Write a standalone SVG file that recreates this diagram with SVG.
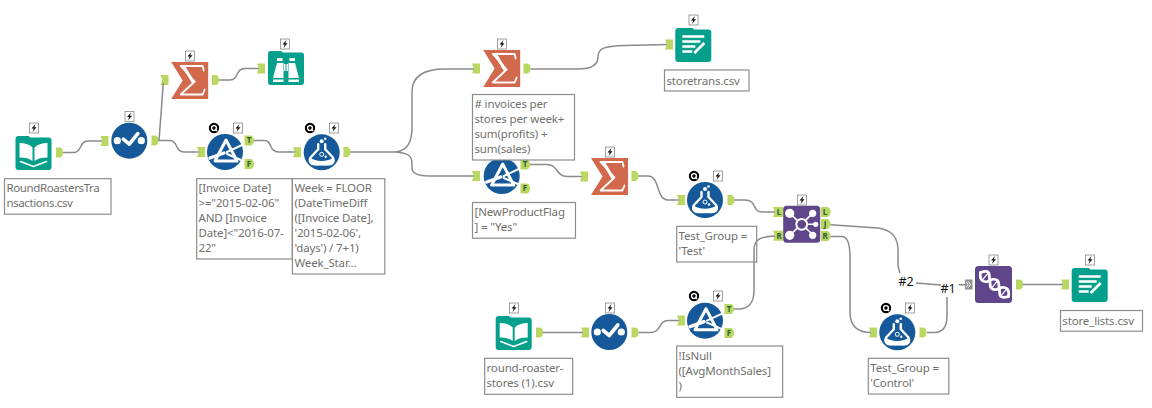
<svg xmlns="http://www.w3.org/2000/svg" xmlns:xlink="http://www.w3.org/1999/xlink" width="1152" height="408" viewBox="0 0 1152 408">
<style>
.wire{fill:none;stroke:#8a8a8a;stroke-width:1.5}
.box{fill:#fff;stroke:#8c8c8c;stroke-width:1.2}
.t{font-family:"Noto Sans","Open Sans",sans-serif;font-size:11.5px;letter-spacing:-.15px;fill:#70706e;-webkit-text-stroke:.15px #70706e}
.p{font-family:"Noto Sans",sans-serif;font-size:8px;font-weight:700;fill:#2f5b3a;text-anchor:middle}
.h{font-family:"Noto Sans",sans-serif;font-size:12.5px;fill:#111;text-anchor:middle}
.w{fill:none;stroke:#fff;stroke-linecap:round;stroke-linejoin:round}
.wf{fill:#fff}
</style>
<defs>
<path id="ai" d="M0,-5H8V5H0L1.8,0Z" fill="#b9d762"/>
<path id="ail" d="M0,-5H10V5H0L1.8,0Z" fill="#b9d762"/>
<path id="ao" d="M0,-5H3.5C6,-5 7,-2.5 7,0C7,2.5 6,5 3.5,5H0Z" fill="#b9d762"/>
<path id="aol" d="M0,-5H6C8,-5 9.5,-2.5 9.5,0C9.5,2.5 8,5 6,5H0Z" fill="#b9d762"/>
<g id="bolt"><rect x="-4.5" y="-5" width="9" height="10" fill="#fff" stroke="#888" stroke-width=".8"/><path d="M1.5,-4L-2.5,.5H-.3L-1.5,4L2.5,-.8H.3Z" fill="#111"/></g>
<g id="q"><circle r="5.2" fill="#000"/><circle r="2.4" fill="none" stroke="#fff" stroke-width="1.4"/><path d="M1,1L3.2,3.2" stroke="#fff" stroke-width="1.2"/></g>
<g id="book"><path d="M-18,-14C-18,-16 -17,-17 -15,-17H-5L-3,-15.5H15C17,-15.5 18,-14.5 18,-13V14C18,16 17,17 15,17H-15C-17,17 -18,16 -18,14Z" fill="#04a08c"/><path class="wf" d="M-14,-10C-8,-10 -4,-8.5 -1,-5.5V8C-4,5.5 -8,4.5 -14,4.5Z"/><path class="wf" d="M14,-10C8,-10 4,-8.5 1,-5.5V8C4,5.5 8,4.5 14,4.5Z"/><path class="w" stroke-width="1.6" d="M-13,8.5L0,13.5L13,8.5"/></g>
<g id="out"><path d="M-18,-14C-18,-16 -17,-17 -15,-17H-1L1,-15.5H15C17,-15.5 18,-14.5 18,-13V14C18,16 17,17 15,17H-15C-17,17 -18,16 -18,14Z" fill="#04a08c"/><path stroke="#fff" stroke-width="2.4" fill="none" d="M-11,-8.5H11M-11,-3.5H7M-11,1.5H2M-11,6.5H-1"/><path stroke="#fff" stroke-width="2.6" fill="none" d="M1,8L11,-2"/></g>
<g id="bino"><path d="M-18,-14C-18,-16 -17,-17 -15,-17H-5L-3,-15.5H15C17,-15.5 18,-14.5 18,-13V14C18,16 17,17 15,17H-15C-17,17 -18,16 -18,14Z" fill="#04a08c"/><path class="wf" d="M-9,-10H-3.5V-7H-9ZM3.5,-10H9V-7H3.5ZM-9,-5H-2.5V10H-13ZM2.5,-5H9L13,10H2.5ZM-13,11.5H-2.5V14H-13ZM2.5,11.5H13V14H2.5ZM-2,-4H-.5V3H-2ZM.5,-4H2V3H.5Z"/></g>
<g id="check"><circle r="18" fill="#15599a"/><circle cx="-12" r="3.6" class="wf"/><circle cx="12" r="3.6" class="wf"/><path class="w" stroke-width="3.6" d="M-6,-1.5L0,3.5L8.5,-7"/></g>
<g id="sum"><path d="M-18.5,-18.5H18.5V18.5H-18.5L-7,0Z" fill="#d2694d"/><path d="M-9,-14.5H13L14,-10M-9,-14.5L5,1L-9,14H13L15,9" class="w" stroke-width="1.8"/><path d="M-6,-14L3,1" class="w" stroke-width="3"/></g>
<g id="filter"><circle r="18" fill="#15599a"/><path class="w" stroke-width="3" d="M1,-12L-10,9H12Z"/><path class="w" stroke-width="3.4" d="M-15,6L-1,1"/><path class="w" stroke-width="2" d="M2,0L17,-7M2,2L16,8"/></g>
<g id="flask"><circle r="18" fill="#15599a"/><path class="w" stroke-width="2.4" d="M-3.5,-8V-3L-11,5C-13,9 -11,12 -7,12H7C11,12 13,9 11,5L3.5,-3V-8"/><path class="wf" d="M-12,5C-6,10 6,10 12,5C14,10 11,13 7,13H-7C-11,13 -14,10 -12,5Z"/><circle cx="0" cy="-11" r="2" class="wf"/><circle cx="3.5" cy="-13.5" r="1.3" class="wf"/><circle cx="0" cy="2" r="2" fill="none" stroke="#fff" stroke-width="1"/><circle cx="4" cy="4.5" r="1.2" class="wf"/></g>
<g id="join"><rect x="-18.5" y="-18.5" width="37" height="37" rx="3.5" fill="#5f4589"/><path stroke="#fff" stroke-width="1.6" d="M-12,-11L12,11M11,-11L-12,11M0,0H14"/><circle cx="-12" cy="-11" r="4.6" class="wf"/><circle cx="11" cy="-11" r="3.6" class="wf"/><circle cx="-12" cy="11" r="4.6" class="wf"/><circle cx="11" cy="11" r="3.6" class="wf"/><circle cx="14" r="2.6" class="wf"/><circle r="5.4" fill="#5f4589" stroke="#fff" stroke-width="2"/></g>
<g id="dna"><rect x="-18.5" y="-18.5" width="37" height="37" rx="3.5" fill="#5f4589"/><path class="w" stroke-width="2.8" d="M-13,-12C-10,-13 -7,-14 -5,-12C-3.5,-10.5 -4.5,-6.5 -3.7,-4C-3,-1.5 -4,2 -2.2,3.8C-.5,5.5 3.5,5.5 5.7,4C8,2.5 11,2.5 13.5,4.2C15,5.5 15.5,9 15,12"/><path class="w" stroke-width="2.8" d="M-13,-12C-13.5,-9 -13.5,-6 -11.5,-4.2C-9.5,-2.5 -6,-2.5 -3.7,-4C-1.5,-5.5 2,-5.5 4.2,-3.8C6,-2 5,1.5 5.7,4C6.5,6.5 5.5,10 7.1,11.8C9,13.5 12,13 15,12"/><path class="w" stroke-width="1.2" d="M-5,-12L-11.5,-4.2M-2.2,3.8L4.2,-3.8M13.5,4.2L7.1,11.8"/></g>
</defs>

<g id="node-input1"><use href="#book" x="33.5" y="153"/><use href="#ao" x="56" y="152.5"/><use href="#bolt" x="34" y="128"/><rect class="box" x="4.5" y="178.7" width="106.5" height="35.5"/><text class="t" style="letter-spacing:-.4px"><tspan x="6.5" y="192.3">RoundRoastersTra</tspan><tspan x="6.5" y="207.3">nsactions.csv</tspan></text></g>
<g id="node-select1"><use href="#check" x="129.3" y="140.7"/><use href="#ai" x="100.5" y="141"/><use href="#ao" x="151.5" y="140.5"/><use href="#bolt" x="129.5" y="116.5"/></g>
<g id="node-sum1"><use href="#sum" x="189.7" y="80.5"/><use href="#ai" x="160.5" y="80"/><use href="#ao" x="212" y="80"/><use href="#bolt" x="190" y="56"/></g>
<g id="node-browse"><use href="#bino" x="286" y="68"/><use href="#ai" x="257" y="68.5"/><use href="#bolt" x="285" y="44"/></g>
<g id="node-filter1"><use href="#filter" x="225" y="152"/><use href="#ai" x="197" y="152"/><use href="#aol" x="244.5" y="140.5"/><text class="p" x="249" y="143.3">T</text><use href="#aol" x="244.5" y="164"/><text class="p" x="249" y="166.8">F</text><use href="#q" x="214" y="128"/><use href="#bolt" x="238" y="128"/><rect class="box" x="196.7" y="178.7" width="95.6" height="80.3"/><text class="t"><tspan x="198.5" y="192.3">[Invoice Date]</tspan><tspan x="198.5" y="207.3">&gt;="2015-02-06"</tspan><tspan x="198.5" y="222.3">AND [Invoice</tspan><tspan x="198.5" y="237.3">Date]&lt;"2016-07-</tspan><tspan x="198.5" y="252.3">22"</tspan></text></g>
<g id="node-formula1"><use href="#flask" x="321.7" y="152.3"/><use href="#ai" x="293" y="152.3"/><use href="#ao" x="343.5" y="152"/><use href="#q" x="310" y="128"/><use href="#bolt" x="334" y="128"/><rect class="box" x="292.4" y="178.7" width="92.4" height="95.3"/><text class="t"><tspan x="294.5" y="192.3">Week = FLOOR</tspan><tspan x="294.5" y="207.3">(DateTimeDiff</tspan><tspan x="294.5" y="222.3">([Invoice Date],</tspan><tspan x="294.5" y="237.3">'2015-02-06',</tspan><tspan x="294.5" y="252.3">'days') / 7+1)</tspan><tspan x="294.5" y="267.3">Week_Star...</tspan></text></g>
<g id="node-filter2"><use href="#filter" x="501.7" y="176"/><use href="#ai" x="472" y="176"/><use href="#aol" x="520.5" y="164.5"/><text class="p" x="525" y="167.3">T</text><use href="#aol" x="520.5" y="188.5"/><text class="p" x="525" y="191.3">F</text><rect class="box" x="472.5" y="202.5" width="103" height="35.7"/><text class="t"><tspan x="474.5" y="216">[NewProductFlag</tspan><tspan x="474.5" y="231">] = "Yes"</tspan></text></g>
<g id="node-sum2"><use href="#sum" x="501.7" y="68.5"/><use href="#ai" x="472" y="68.5"/><use href="#ao" x="523.5" y="68.5"/><use href="#bolt" x="502" y="44"/><rect class="box" x="472.5" y="94.5" width="102" height="65.5"/><text class="t"><tspan x="474.5" y="108">#  invoices per</tspan><tspan x="474.5" y="123">stores per week+</tspan><tspan x="474.5" y="138">sum(profits) +</tspan><tspan x="474.5" y="153">sum(sales)</tspan></text></g>
<g id="node-output1"><use href="#out" x="693.3" y="45"/><use href="#ai" x="665" y="44.5"/><use href="#bolt" x="693.5" y="20"/><rect class="box" x="664.5" y="70" width="84.5" height="21"/><text class="t" x="666.5" y="84.5">storetrans.csv</text></g>
<g id="node-sum3"><use href="#sum" x="609.5" y="176.5"/><use href="#ai" x="580" y="176.5"/><use href="#ao" x="631.5" y="176"/><use href="#bolt" x="610" y="152"/></g>
<g id="node-formula2"><use href="#flask" x="705" y="200"/><use href="#ai" x="677" y="200"/><use href="#ao" x="727.5" y="200"/><use href="#q" x="694" y="176"/><use href="#bolt" x="718" y="176"/><rect class="box" x="676.7" y="226.3" width="80" height="35.7"/><text class="t"><tspan x="678.5" y="240">Test_Group =</tspan><tspan x="678.5" y="255">'Test'</tspan></text></g>
<g id="node-join"><use href="#join" x="801.7" y="224.3"/><use href="#ail" x="773" y="212"/><text class="p" x="779" y="214.8">L</text><use href="#ail" x="773" y="235.7"/><text class="p" x="779" y="238.5">R</text><use href="#aol" x="821" y="212"/><text class="p" x="825" y="214.8">L</text><use href="#aol" x="821" y="224"/><text class="p" x="825" y="226.8">J</text><use href="#aol" x="821" y="236"/><text class="p" x="825" y="238.8">R</text><use href="#bolt" x="802" y="200"/></g>
<g id="node-input2"><use href="#book" x="513.7" y="333"/><use href="#ao" x="536" y="332.5"/><use href="#bolt" x="514" y="308"/><rect class="box" x="484.7" y="358.3" width="88" height="36"/><text class="t"><tspan x="486.5" y="372">round-roaster-</tspan><tspan x="486.5" y="387">stores (1).csv</tspan></text></g>
<g id="node-select2"><use href="#check" x="609.3" y="332"/><use href="#ai" x="581" y="332.5"/><use href="#ao" x="631.5" y="332.5"/><use href="#bolt" x="610" y="308"/></g>
<g id="node-filter3"><use href="#filter" x="705" y="320.7"/><use href="#ai" x="677" y="320.5"/><use href="#aol" x="724.5" y="309"/><text class="p" x="729" y="311.8">T</text><use href="#aol" x="724.5" y="333"/><text class="p" x="729" y="335.8">F</text><use href="#q" x="694" y="296"/><use href="#bolt" x="718" y="296"/><rect class="box" x="676.7" y="346" width="106" height="51.3"/><text class="t"><tspan x="678.5" y="360">!IsNull</tspan><tspan x="678.5" y="375">([AvgMonthSales]</tspan><tspan x="678.5" y="390">)</tspan></text></g>
<g id="node-formula3"><use href="#flask" x="897.3" y="332.3"/><use href="#ai" x="869" y="332.5"/><use href="#ao" x="919.5" y="332.5"/><use href="#q" x="886" y="308"/><use href="#bolt" x="910" y="308"/><rect class="box" x="868.3" y="358.3" width="80.5" height="35.7"/><text class="t"><tspan x="870.3" y="372">Test_Group =</tspan><tspan x="870.3" y="387">'Control'</tspan></text></g>
<g id="node-union"><use href="#dna" x="993.5" y="284.5"/><rect x="965" y="279.5" width="7.5" height="10" fill="#8f8f8f"/><path d="M966,281.5L968,284.5L966,287.5M968.5,281.5L970.5,284.5L968.5,287.5" fill="none" stroke="#fff" stroke-width="1"/><use href="#ao" x="1016" y="284.5"/><use href="#bolt" x="993.5" y="260"/></g>
<g id="node-output2"><use href="#out" x="1089.7" y="285"/><use href="#ai" x="1061" y="284.5"/><use href="#bolt" x="1090" y="260"/><rect class="box" x="1060.5" y="310.5" width="82" height="20.7"/><text class="t" x="1062.3" y="325">store_lists.csv</text></g>

<g id="connectors">
<path class="wire" d="M63,152.5H74C82,152.5 79,141 88,141H102"/>
<path class="wire" d="M158.5,140.5H170C178,140.5 175,152 184,152H199"/>
<path class="wire" d="M159,141L163.3,83"/>
<path class="wire" d="M219,80H230C239,80 235,68.5 245,68.5H259"/>
<path class="wire" d="M254,140.5H264C273,140.5 268,152 279,152H295"/>
<path class="wire" d="M350.5,152H396C408,150 412,142 412,127V92C412,76 424,69 445,69H474"/>
<path class="wire" d="M396,152C408,153 412,156 412,163V168C412,174 418,176 430,176H474"/>
<path class="wire" d="M530.5,69H578C592,69 598,64 598,57C598,49 603,46 625,45.5L667,44.5"/>
<path class="wire" d="M530,164.5H547C558,164.5 556,176.5 567,176.5H582"/>
<path class="wire" d="M638.5,176H648C660,176 656,200 668,200H679"/>
<path class="wire" d="M734.5,200H745C757,200 752,212 762,212H775"/>
<path class="wire" d="M734,309H738C750,309 754,302 754,290V250C754,240 760,236.5 775,236"/>
<path class="wire" d="M543,332.5H583"/>
<path class="wire" d="M638.5,332.5H650C662,332.5 658,320.5 668,320.5H679"/>
<path class="wire" d="M830.5,224.7L878,228C892,230 898,237 898,250V266L900,273"/>
<path class="wire" d="M830.5,236.5H842C848,236.5 850,245 850,258V312C850,326 857,332.5 871,332.5"/>
<path class="wire" d="M916,283L941,285"/>
<path class="wire" d="M927,332.5H934C943,332.5 947,326 947,316V297"/>
<path class="wire" d="M958.5,284.7H966"/>
<path class="wire" d="M1023,284.5H1063"/>
</g>
<text class="h" x="906" y="285.5">#2</text>
<text class="h" x="948" y="292.5">#1</text>
</svg>
